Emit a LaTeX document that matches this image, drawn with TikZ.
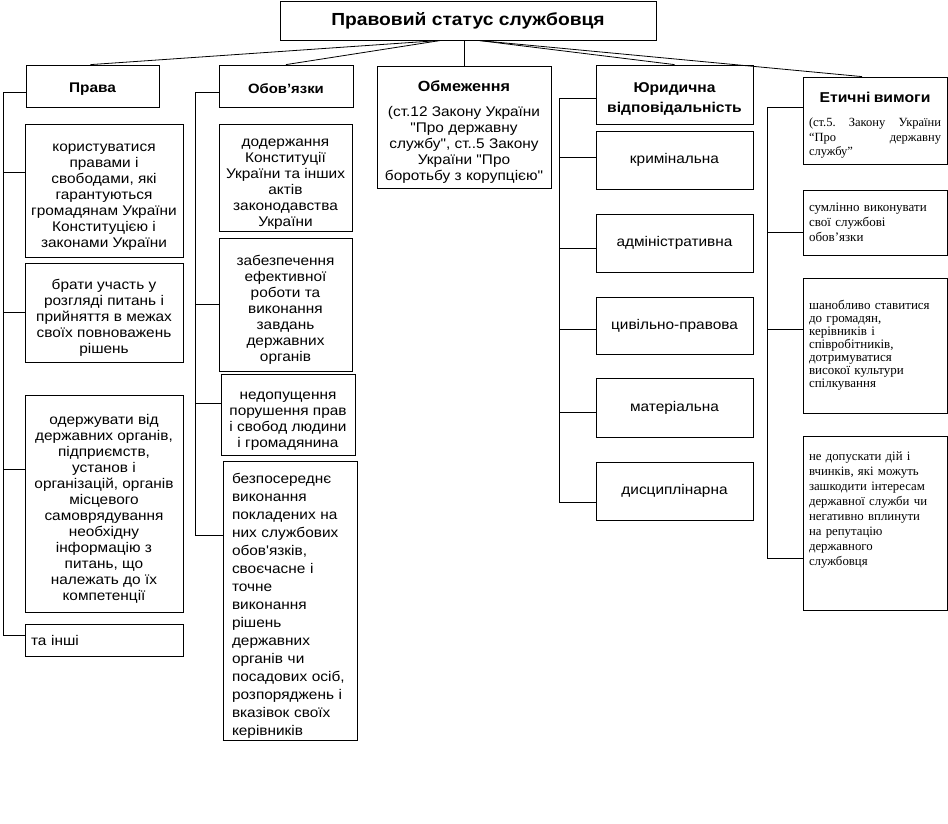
\documentclass[tikz,border=0pt]{standalone}
\usepackage{fontspec}
\setmainfont{Liberation Sans}[Ligatures=TeXOff,FakeStretch=1.1]
\newfontfamily\serifrm{Liberation Serif}[Ligatures=TeXOff]
\newcommand\tp{\rule{0pt}{20pt}}
\begin{document}
\begin{tikzpicture}[x=1pt,y=-1pt,
  box/.style={draw, line width=0.8pt, inner sep=2pt, align=center,
    font=\fontsize{14}{16}\selectfont},
  hdr/.style={box, font=\fontsize{#1}{18}\selectfont\bfseries},
  ebox/.style={draw, line width=0.8pt, inner sep=0pt, text width=132pt, align=left},
  conn/.style={line width=0.8pt}]
\useasboundingbox (0,0) rectangle (948,823);
% title and headers
\node[hdr=17.5, minimum width=376pt, minimum height=39pt] (title) at (468,20.5) {Правовий статус службовця};
\node[hdr=14, minimum width=133pt, minimum height=42pt] (pr) at (92.5,86) {\rule{0pt}{16pt}Права};
\node[hdr=13.5, minimum width=134pt, minimum height=42pt] (ob) at (286,86) {\rule{0pt}{16pt}Обов’язки};
\node[box, minimum width=174pt, minimum height=122pt] (om) at (464,127)
  {{\fontsize{14.7}{18}\selectfont\bfseries \tp Обмеження}\\[9pt](ст.12 Закону України\\"Про державну\\службу", ст..5 Закону\\України "Про\\боротьбу з корупцією"};
\node[box, minimum width=157pt, minimum height=59pt, font=\fontsize{14.2}{20}\selectfont\bfseries] (yu) at (674.5,94.5) {\rule{0pt}{19pt}Юридична\\відповідальність};
\node[draw, line width=0.8pt, minimum width=144pt, minimum height=87pt, inner sep=0pt, text width=132pt, align=left] (et) at (875,120.5)
  {{\centering\fontsize{14.3}{18}\selectfont\bfseries \tp Етичні вимоги\par}\vspace{10pt}
   {\serifrm\fontsize{12.5}{14.5}\selectfont (ст.5.\hfill Закону\hfill України\par “Про\hfill державну\par службу”\par}};
% Права
\node[box, minimum width=158pt, minimum height=133pt] (p1) at (104,190.5) {\tp користуватися\\правами і\\свободами, які\\гарантуються\\громадянам України\\Конституцією і\\законами України};
\node[box, minimum width=158pt, minimum height=99pt] (p2) at (104,312.5) {\tp брати участь у\\розгляді питань і\\прийняття в межах\\своїх повноважень\\рішень};
\node[box, minimum width=158pt, minimum height=217pt] (p3) at (104,503.5) {\tp одержувати від\\державних органів,\\підприємств,\\установ і\\організацій, органів\\місцевого\\самоврядування\\необхідну\\інформацію з\\питань, що\\належать до їх\\компетенції};
\node[box, minimum width=158pt, minimum height=32pt, text width=146pt, align=left] (p4) at (104,640) {та інші};
% Обов'язки
\node[box, minimum width=133pt, minimum height=107pt] (o1) at (285.5,177.5) {\tp додержання\\Конституції\\України та інших\\актів\\законодавства\\України};
\node[box, minimum width=133pt, minimum height=133pt] (o2) at (285.5,304.5) {\tp забезпечення\\ефективної\\роботи та\\виконання\\завдань\\державних\\органів};
\node[box, minimum width=134pt, minimum height=81pt] (o3) at (288,414.5) {\tp недопущення\\порушення прав\\і свобод людини\\і громадянина};
\node[box, minimum width=134pt, minimum height=279pt, text width=116pt, align=left, font=\fontsize{14}{18}\selectfont] (o4) at (290,600.5) {\tp безпосереднє\\виконання\\покладених на\\них службових\\обов'язків,\\своєчасне і\\точне\\виконання\\рішень\\державних\\органів чи\\посадових осіб,\\розпоряджень і\\вказівок своїх\\керівників};
\draw[line width=1.6pt] (o4.south west) -- (o4.south east);
% Юридична
\node[box, minimum width=157pt, minimum height=58pt] (y1) at (674.5,160) {кримінальна};
\node[box, minimum width=157pt, minimum height=58pt] (y2) at (674.5,243) {адміністративна};
\node[box, minimum width=157pt, minimum height=57pt] (y3) at (674.5,325.5) {цивільно-правова};
\node[box, minimum width=157pt, minimum height=59pt] (y4) at (674.5,407.5) {матеріальна};
\node[box, minimum width=157pt, minimum height=58pt] (y5) at (674.5,491) {дисциплінарна};
% Етичні
\node[ebox, minimum width=144pt, minimum height=65pt, font=\serifrm\fontsize{13}{15}\selectfont] (e1) at (875,222.5) {сумлінно виконувати\\свої службові\\обов’язки};
\node[ebox, minimum width=144pt, minimum height=135pt, font=\serifrm\fontsize{13}{13}\selectfont] (e2) at (875,345.5) {шанобливо ставитися\\до громадян,\\керівників і\\співробітників,\\дотримуватися\\високої культури\\спілкування};
\node[ebox, minimum width=144pt, minimum height=174pt, font=\serifrm\fontsize{12.8}{15}\selectfont] (e3) at (875,523) {не допускати дій і\\вчинків, які можуть\\зашкодити інтересам\\державної служби чи\\негативно вплинути\\на репутацію\\державного\\службовця\\[14pt]\mbox{}};
% coordinates
\coordinate (pb) at (3,635);
\coordinate (obb) at (195,535);
\coordinate (yb) at (559,502);
\coordinate (eb) at (767,558);
% title connectors
\draw[conn] ([xshift=-27pt]title.south) -- ([xshift=-2pt]pr.north);
\draw[conn] ([xshift=-27pt]title.south) -- (ob.north);
\draw[conn] (om.north) -- (om.north |- title.south);
\draw[conn] ([xshift=10pt]title.south) -- (yu.north);
\draw[conn] ([xshift=10pt]title.south) -- ([xshift=-13pt]et.north);
% Права
\draw[conn] ([yshift=-6pt]pr.west) -| (pb);
\draw[conn] ([yshift=5pt]p4.west) -- (pb);
\draw[conn] ([yshift=18.5pt]p1.west) -- ([yshift=18.5pt]p1.west -| pb);
\draw[conn] (p2.west) -- (p2.west -| pb);
\draw[conn] ([yshift=34.5pt]p3.west) -- ([yshift=34.5pt]p3.west -| pb);
% Обов'язки
\draw[conn] ([yshift=-6pt]ob.west) -| (obb);
\draw[conn] ([yshift=65.5pt]o4.west) -- (obb);
\draw[conn] (o2.west) -- (o2.west -| obb);
\draw[conn] ([yshift=11.5pt]o3.west) -- ([yshift=11.5pt]o3.west -| obb);
% Юридична
\draw[conn] ([yshift=-3.5pt]yu.west) -| (yb);
\draw[conn] ([yshift=-11pt]y5.west) -- (yb);
\draw[conn] ([yshift=3pt]y1.west) -- ([yshift=3pt]y1.west -| yb);
\draw[conn] ([yshift=-5pt]y2.west) -- ([yshift=-5pt]y2.west -| yb);
\draw[conn] ([yshift=-3.5pt]y3.west) -- ([yshift=-3.5pt]y3.west -| yb);
\draw[conn] ([yshift=-4.5pt]y4.west) -- ([yshift=-4.5pt]y4.west -| yb);
% Етичні
\draw[conn] ([yshift=13.5pt]et.west) -| (eb);
\draw[conn] ([yshift=-35pt]e3.west) -- (eb);
\draw[conn] ([yshift=-9.5pt]e1.west) -- ([yshift=-9.5pt]e1.west -| eb);
\draw[conn] ([yshift=16.5pt]e2.west) -- ([yshift=16.5pt]e2.west -| eb);
\end{tikzpicture}
\end{document}
